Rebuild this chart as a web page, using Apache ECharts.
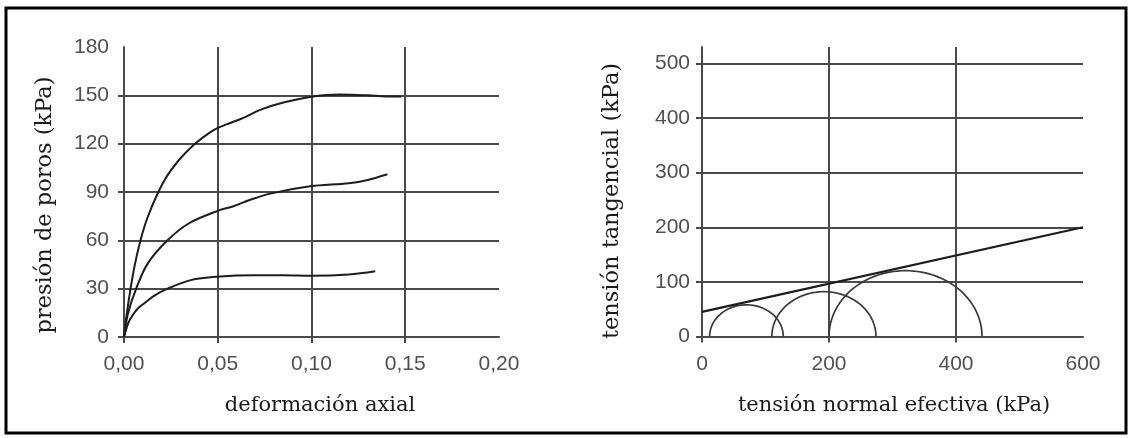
<!DOCTYPE html>
<html>
<head>
<meta charset="utf-8">
<script src="https://cdn.jsdelivr.net/npm/echarts@6/dist/echarts.min.js"></script>
<style>
  html, body { margin: 0; padding: 0; background: #ffffff; }
  #chart { width: 1131px; height: 438px; }
</style>
</head>
<body>
<div id="chart"></div>
<script>
// --- Left panel: pore pressure vs axial strain -----------------------------
const strainTicks = [0, 0.05, 0.10, 0.15, 0.20];
const poreTicks = [0, 30, 60, 90, 120, 150, 180];

// three undrained tests, [axial strain, pore pressure kPa]
const poreHigh = [
  [0, 0], [0.0012, 12], [0.0035, 30], [0.0058, 45], [0.0088, 60], [0.0125, 74],
  [0.0183, 90], [0.023, 100], [0.028, 108], [0.033, 114.5], [0.0379, 120],
  [0.044, 125.5], [0.05, 129.8], [0.057, 133], [0.0637, 136], [0.0726, 141],
  [0.085, 145.5], [0.0993, 149], [0.115, 150.5], [0.13, 150], [0.14, 149.3], [0.148, 149.3]
];
const poreMid = [
  [0, 0], [0.0021, 14.5], [0.0065, 30], [0.0127, 45.7], [0.0232, 60], [0.0347, 70.6],
  [0.0514, 78.9], [0.058, 81], [0.067, 85], [0.078, 89], [0.0993, 93.5],
  [0.12, 95.5], [0.13, 97.5], [0.1405, 101]
];
const poreLow = [
  [0, 0], [0.0024, 9], [0.0048, 13.8], [0.0075, 17.8], [0.0109, 21], [0.016, 25.5],
  [0.0232, 30], [0.0356, 35.3], [0.0495, 37.4], [0.07, 38.3], [0.085, 38.3],
  [0.1, 38], [0.12, 38.8], [0.134, 40.8]
];

// --- Right panel: Mohr circles in effective stress --------------------------
const normalTicks = [0, 200, 400, 600];
const shearTicks = [0, 100, 200, 300, 400, 500];
const sigma3 = [12, 110, 200];    // minor effective principal stress, kPa
const sigma1 = [128, 274, 441];   // major effective principal stress, kPa
const envelope = [[0, 45], [600, 200]];

// semicircle traced from the two principal stresses
function mohrArc(s3, s1) {
  const c = (s1 + s3) / 2, r = (s1 - s3) / 2, pts = [];
  for (let i = 0; i <= 120; i++) {
    const a = Math.PI - Math.PI * i / 120;
    pts.push([c + r * Math.cos(a), r * Math.sin(a)]);
  }
  return pts;
}

const GRID = '#4a4a4a';
const INK = '#1c1c1c';
const labelStyle = { color: '#505050', fontFamily: 'Liberation Sans, Arial, sans-serif', fontSize: 21 };
const SERIF = 'DejaVu Serif, serif';

function splitColors(n, hideLast) {
  const arr = [];
  for (let i = 0; i < n; i++) arr.push(hideLast && i === n - 1 ? 'rgba(0,0,0,0)' : GRID);
  return arr;
}

function title(text, x, y, size, vertical) {
  return {
    type: 'text', x: x, y: y, rotation: vertical ? Math.PI / 2 : 0, z: 50,
    style: { text: text, fill: '#1a1a1a', font: size + 'px ' + SERIF, align: 'center', verticalAlign: 'middle' }
  };
}

const circleSeries = sigma3.map((s3, i) => ({
  type: 'line', xAxisIndex: 1, yAxisIndex: 1,
  data: mohrArc(s3, sigma1[i]),
  showSymbol: false, silent: true,
  lineStyle: { color: '#3a3a3a', width: 1.7 }
}));

const curve = data => ({
  type: 'line', xAxisIndex: 0, yAxisIndex: 0, data: data,
  smooth: 0.35, showSymbol: false,
  lineStyle: { color: INK, width: 2 }
});

const option = {
  animation: false,
  backgroundColor: '#ffffff',
  grid: [
    { left: 124, top: 47, width: 375, height: 290 },
    { left: 702, top: 47, width: 381, height: 289.5 }
  ],
  xAxis: [
    {
      gridIndex: 0, type: 'value', min: 0, max: 0.2, interval: 0.05,
      axisLine: { onZero: false, lineStyle: { color: GRID, width: 2 } },
      axisTick: { show: true, length: 6, customValues: strainTicks.slice(0, 4), lineStyle: { color: GRID, width: 2 } },
      axisLabel: Object.assign({ margin: 17, formatter: v => v.toFixed(2).replace('.', ',') }, labelStyle),
      splitLine: { show: true, lineStyle: { color: splitColors(strainTicks.length, true), width: 2 } }
    },
    {
      gridIndex: 1, type: 'value', min: 0, max: 600, interval: 200,
      axisLine: { onZero: false, lineStyle: { color: GRID, width: 2 } },
      axisTick: { show: true, length: 6, customValues: normalTicks.slice(0, 3), lineStyle: { color: GRID, width: 2 } },
      axisLabel: Object.assign({ margin: 17 }, labelStyle),
      splitLine: { show: true, lineStyle: { color: splitColors(normalTicks.length, true), width: 2 } }
    }
  ],
  yAxis: [
    {
      gridIndex: 0, type: 'value', min: 0, max: 180, interval: 30,
      axisLine: { show: true, onZero: false, lineStyle: { color: GRID, width: 2 } },
      axisTick: { show: true, length: 6, customValues: poreTicks.slice(0, 6), lineStyle: { color: GRID, width: 2 } },
      axisLabel: Object.assign({ margin: 15 }, labelStyle),
      splitLine: { show: true, lineStyle: { color: splitColors(poreTicks.length, true), width: 2 } }
    },
    {
      gridIndex: 1, type: 'value', min: 0, max: 530, interval: 100,
      axisLine: { show: true, onZero: false, lineStyle: { color: GRID, width: 2 } },
      axisTick: { show: true, length: 6, customValues: shearTicks, lineStyle: { color: GRID, width: 2 } },
      axisLabel: Object.assign({ margin: 12, formatter: v => (shearTicks.indexOf(v) >= 0 ? String(v) : '') }, labelStyle),
      splitLine: { show: true, lineStyle: { color: splitColors(shearTicks.length + 1, true), width: 2 } }
    }
  ],
  series: [
    curve(poreHigh),
    curve(poreMid),
    curve(poreLow),
    ...circleSeries,
    { type: 'line', xAxisIndex: 1, yAxisIndex: 1, data: envelope, showSymbol: false, lineStyle: { color: INK, width: 2.2 } }
  ],
  graphic: [
    title('presión de poros (kPa)', 45, 205, 22.5, true),
    title('deformación axial', 320, 406, 21, false),
    title('tensión tangencial (kPa)', 612, 201, 22.5, true),
    title('tensión normal efectiva (kPa)', 894, 406, 21, false),
    { type: 'rect', shape: { x: 6, y: 8, width: 1120, height: 425 }, style: { fill: 'none', stroke: '#000', lineWidth: 3 }, z: 100 }
  ]
};

const chart = echarts.init(document.getElementById('chart'), null, { renderer: 'canvas' });
chart.setOption(option);
</script>
</body>
</html>
